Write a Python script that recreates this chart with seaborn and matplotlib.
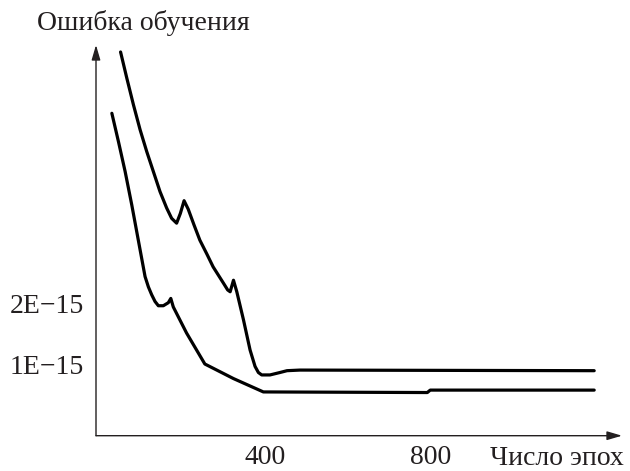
import matplotlib
matplotlib.use("Agg")
import matplotlib.pyplot as plt
import seaborn as sns
import pandas as pd

# Upper curve (epochs, error in units of 1E-15)
upper_x = [52, 67, 83, 99, 115, 131, 147, 163, 175, 187, 196, 205, 215, 229, 243, 260, 275, 300,
           310, 316, 324, 332, 348, 364, 376, 384, 392, 412, 436, 453, 484, 1193]
upper_y = [6.14, 5.71, 5.27, 4.86, 4.50, 4.17, 3.84, 3.57, 3.40, 3.32, 3.48, 3.69, 3.55, 3.29, 3.04, 2.81, 2.60, 2.33,
           2.22, 2.19, 2.38, 2.19, 1.73, 1.23, 0.96, 0.86, 0.82, 0.82, 0.86, 0.89, 0.90, 0.89]

# Lower curve
lower_x = [31, 47, 63, 79, 95, 111, 119, 127, 135, 143, 155, 167, 173, 179, 211, 255, 324, 396, 791, 798, 1193]
lower_y = [5.13, 4.66, 4.17, 3.62, 3.03, 2.44, 2.27, 2.14, 2.03, 1.96, 1.96, 2.01, 2.08, 1.94, 1.51, 1.00, 0.76, 0.54, 0.53, 0.57, 0.57]

xticks = [400, 800]
xtick_labels = ["400", "800"]
yticks = [1, 2]
ytick_labels = ["1E\u221215", "2E\u221215"]

INK = "#231f20"

sns.set_theme(style="white")
plt.rcParams['font.family'] = ['Liberation Serif', 'DejaVu Serif']

fig = plt.figure(figsize=(6.3, 4.71), dpi=100)
ax = fig.add_axes([96/630, (471-435.7)/471, (622-96)/630, (435.7-45)/471])

df_u = pd.DataFrame({"x": upper_x, "y": upper_y})
df_l = pd.DataFrame({"x": lower_x, "y": lower_y})
for d in (df_u, df_l):
    sns.lineplot(data=d, x="x", y="y", ax=ax, color="black", lw=2.3, sort=False, estimator=None,
                 solid_joinstyle="round", solid_capstyle="round")

ax.set_xlim(-7.2, 1260)
ax.set_ylim(-0.181, 6.255)
ax.set_xticks(xticks)
ax.set_xticklabels(xtick_labels)
ax.set_yticks(yticks)
ax.set_yticklabels(ytick_labels)
ax.tick_params(axis="both", direction="in", length=6.5, width=0.9, colors=INK, labelsize=20)
ax.tick_params(axis="x", pad=7)
ax.tick_params(axis="y", pad=8.5)
ax.set_xlabel("")
ax.set_ylabel("")

for s in ["top", "right", "left", "bottom"]:
    ax.spines[s].set_visible(False)

ax.annotate("", xy=(1, 0), xytext=(0, 0), xycoords="axes fraction",
            arrowprops=dict(arrowstyle="-|>,head_length=0.75,head_width=0.22", color=INK, lw=1.0, shrinkA=0, shrinkB=0))
ax.annotate("", xy=(0, 1), xytext=(0, 0), xycoords="axes fraction",
            arrowprops=dict(arrowstyle="-|>,head_length=0.75,head_width=0.22", color=INK, lw=1.0, shrinkA=0, shrinkB=0))

fig.text(37/630, 1 - 30/471, "Ошибка обучения", fontsize=20, ha="left", va="baseline", color=INK)
fig.text(624/630, 1 - 465/471, "Число эпох", fontsize=20, ha="right", va="baseline", color=INK)

fig.savefig("out.png", dpi=100, facecolor="white")
